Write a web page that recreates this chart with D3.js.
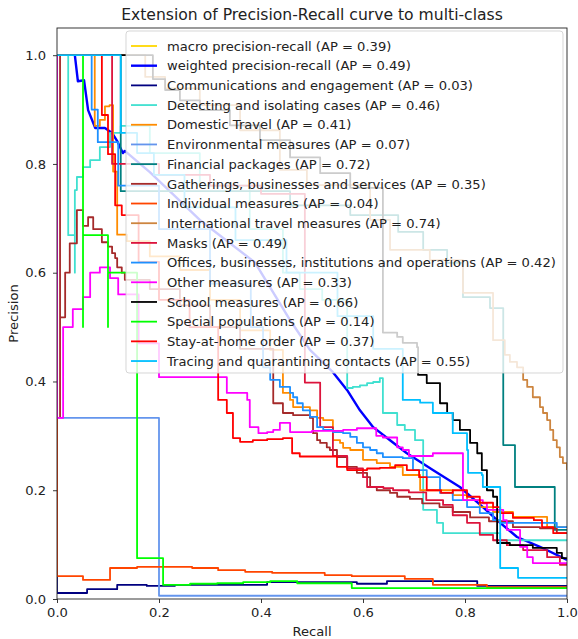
<!DOCTYPE html>
<html>
<head>
<meta charset="utf-8">
<script src="https://cdn.jsdelivr.net/npm/d3@7"></script>
<style>
	body { margin: 0; background: #fff; }
	svg { display: block; font-family: 'DejaVu Sans', sans-serif; }
</style>
</head>
<body>
<svg width="578" height="639"></svg>
<script>
// legend rows, in plot order
const seriesNames = [
	'macro precision-recall', 'weighted precision-recall',
	'Communications and engagement', 'Detecting and isolating cases', 'Domestic Travel',
	'Environmental measures', 'Financial packages', 'Gatherings, businesses and services',
	'Individual measures', 'International travel measures', 'Masks',
	'Offices, businesses, institutions and operations', 'Other measures', 'School measures',
	'Special populations', 'Stay-at-home order', 'Tracing and quarantining contacts'
]
const apScores = [0.39, 0.49, 0.03, 0.46, 0.41, 0.07, 0.72, 0.35, 0.04, 0.74, 0.49, 0.42, 0.33, 0.66, 0.14, 0.37, 0.55]
const seriesColors = ['gold', 'blue', 'navy', 'turquoise', 'darkorange', 'cornflowerblue', 'teal', 'brown',
	'orangered', 'peru', 'crimson', 'dodgerblue', 'magenta', 'black', 'lime', 'red', 'deepskyblue']

const xTicks = [0, 0.2, 0.4, 0.6, 0.8, 1.0]
const yTicks = [0, 0.2, 0.4, 0.6, 0.8, 1.0]

// [recall, precision]
const macroCurve = []
const weightedCurve = [[0.035,1.0],[0.041,0.952],[0.053,0.954],[0.061,0.899],[0.075,0.866],[0.094,0.866],[0.108,0.857],[0.118,0.842],[0.129,0.82],[0.133,0.824],[0.182,0.785],[0.28,0.697],[0.388,0.619],[0.457,0.513],[0.496,0.458],[0.541,0.417],[0.569,0.384],[0.594,0.347],[0.62,0.316],[0.653,0.292],[0.686,0.268],[0.737,0.237],[0.79,0.206],[0.835,0.169],[0.869,0.14],[0.902,0.114],[0.947,0.096],[1.0,0.072]]

const commsCurve = [[0,1],[0,0.011],[0.059,0.018],[0.118,0.026],[0.176,0.024],[0.231,0.026],[0.412,0.031],[0.588,0.028],[0.647,0.033],[0.824,0.024],[1,0.024]]
const detectingCurve = [[0,1],[0.022,0.669],[0.035,0.6],[0.035,0.752],[0.039,0.776],[0.051,0.794],[0.065,0.807],[0.084,0.831],[0.104,0.857],[0.125,0.87],[0.182,0.82],[0.28,0.76],[0.378,0.68],[0.443,0.6],[0.476,0.57],[0.52,0.55],[0.569,0.388],[0.58,0.39],[0.594,0.393],[0.608,0.397],[0.62,0.399],[0.633,0.406],[0.639,0.342],[0.667,0.32],[0.682,0.311],[0.702,0.292],[0.718,0.164],[0.745,0.14],[0.757,0.121],[0.869,0.108],[1,0.108]]
const domesticCurve = [[0,1],[0.074,0.87],[0.084,0.881],[0.094,0.906],[0.103,0.908],[0.11,0.786],[0.118,0.67],[0.137,0.658],[0.182,0.63],[0.241,0.605],[0.3,0.55],[0.359,0.494],[0.418,0.458],[0.443,0.379],[0.457,0.366],[0.463,0.353],[0.496,0.347],[0.51,0.333],[0.522,0.329],[0.541,0.292],[0.555,0.287],[0.561,0.278],[0.575,0.274],[0.6,0.256],[0.627,0.25],[0.653,0.243],[0.678,0.228],[0.712,0.2],[0.776,0.191],[0.804,0.182],[0.829,0.169],[0.855,0.16],[0.894,0.151],[0.961,0.132],[1,0.132]]
const environmentCurve = [[0,1],[0,0.333],[0.2,0.006],[1,0.006]]
const financialCurve = [[0,1],[0.125,0.75],[0.457,0.724],[0.575,0.706],[0.669,0.675],[0.718,0.642],[0.765,0.618],[0.796,0.555],[0.849,0.535],[0.875,0.283],[0.898,0.206],[0.976,0.127],[1,0.127]]
const gatheringsCurve = [[0,1],[0.006,0.335],[0.006,0.518],[0.016,0.6],[0.025,0.654],[0.039,0.715],[0.051,0.686],[0.061,0.702],[0.071,0.68],[0.088,0.656],[0.1,0.648],[0.108,0.636],[0.114,0.627],[0.118,0.61],[0.127,0.6],[0.133,0.587],[0.182,0.57],[0.241,0.54],[0.3,0.5],[0.359,0.46],[0.424,0.36],[0.443,0.342],[0.463,0.338],[0.496,0.333],[0.502,0.305],[0.51,0.292],[0.516,0.287],[0.529,0.279],[0.535,0.274],[0.549,0.261],[0.569,0.243],[0.588,0.232],[0.608,0.224],[0.614,0.206],[0.627,0.2],[0.653,0.195],[0.667,0.188],[0.692,0.184],[0.716,0.176],[0.75,0.169],[0.776,0.16],[0.81,0.15],[0.847,0.143],[0.894,0.132],[0.947,0.13],[0.98,0.121],[1,0.121]]
const individualCurve = [[0,1],[0,0.042],[0.051,0.035],[0.104,0.057],[0.157,0.059],[0.265,0.057],[0.316,0.053],[0.369,0.05],[0.422,0.048],[0.525,0.044],[0.578,0.042],[0.682,0.037],[0.737,0.026],[0.843,0.022],[1,0.022]]
const internationalCurve = [[0,1],[0.173,0.96],[0.212,0.939],[0.28,0.908],[0.359,0.862],[0.437,0.789],[0.49,0.761],[0.614,0.697],[0.653,0.642],[0.731,0.623],[0.796,0.563],[0.855,0.476],[0.878,0.449],[0.888,0.436],[0.902,0.426],[0.914,0.403],[0.922,0.39],[0.933,0.371],[0.947,0.353],[0.953,0.342],[0.961,0.329],[0.967,0.311],[0.973,0.292],[0.98,0.279],[0.986,0.261],[0.992,0.25],[1,0.237]]
const masksCurve = [[0,1],[0.108,0.8],[0.2,0.78],[0.3,0.76],[0.4,0.745],[0.486,0.398],[0.516,0.316],[0.541,0.263],[0.569,0.24],[0.6,0.224],[0.608,0.206],[0.64,0.204],[0.659,0.2],[0.69,0.196],[0.724,0.182],[0.757,0.173],[0.776,0.154],[0.804,0.14],[0.829,0.118],[0.855,0.108],[0.882,0.099],[0.914,0.09],[0.961,0.077],[0.986,0.063],[1,0.063]]
const officesCurve = [[0,1],[0.068,0.9],[0.08,0.84],[0.12,0.76],[0.2,0.68],[0.3,0.58],[0.38,0.5],[0.404,0.426],[0.418,0.403],[0.437,0.39],[0.457,0.379],[0.463,0.371],[0.471,0.36],[0.482,0.347],[0.496,0.335],[0.51,0.316],[0.522,0.311],[0.541,0.307],[0.561,0.305],[0.575,0.298],[0.588,0.287],[0.6,0.279],[0.614,0.274],[0.627,0.268],[0.639,0.261],[0.678,0.259],[0.698,0.237],[0.725,0.224],[0.751,0.195],[0.776,0.182],[0.804,0.169],[0.829,0.158],[0.855,0.145],[0.869,0.14],[0.98,0.132],[1,0.132]]
const otherCurve = [[0,1],[0,0.333],[0.012,0.5],[0.031,0.533],[0.051,0.555],[0.065,0.6],[0.084,0.61],[0.104,0.59],[0.12,0.56],[0.16,0.47],[0.2,0.408],[0.333,0.379],[0.373,0.366],[0.378,0.316],[0.395,0.305],[0.412,0.307],[0.424,0.311],[0.437,0.324],[0.457,0.307],[0.5,0.309],[0.561,0.311],[0.588,0.314],[0.626,0.3],[0.639,0.297],[0.667,0.279],[0.678,0.274],[0.69,0.263],[0.737,0.268],[0.796,0.182],[0.835,0.176],[0.843,0.164],[0.875,0.145],[0.882,0.127],[0.908,0.096],[0.922,0.077],[0.933,0.066],[1,0.066]]
const schoolCurve = [[0,1],[0.188,0.956],[0.212,0.936],[0.241,0.917],[0.28,0.899],[0.339,0.871],[0.398,0.844],[0.457,0.812],[0.516,0.783],[0.575,0.756],[0.639,0.49],[0.667,0.482],[0.678,0.471],[0.706,0.463],[0.708,0.412],[0.725,0.397],[0.751,0.36],[0.765,0.342],[0.776,0.329],[0.79,0.311],[0.81,0.287],[0.824,0.268],[0.833,0.237],[0.843,0.2],[0.855,0.188],[0.863,0.103],[0.888,0.099],[0.933,0.094],[0.98,0.085],[0.99,0.075],[1,0.075]]
const specialCurve = [[0,1],[0.051,0.5],[0.051,0.669],[0.1,0.5],[0.1,0.6],[0.157,0.075],[0.208,0.026],[0.261,0.028],[0.314,0.029],[0.365,0.031],[0.418,0.033],[0.471,0.029],[0.578,0.02],[1,0.02]]
const stayHomeCurve = [[0,1],[0.088,0.89],[0.1,0.818],[0.114,0.724],[0.127,0.706],[0.16,0.62],[0.2,0.55],[0.26,0.5],[0.316,0.366],[0.333,0.342],[0.345,0.296],[0.359,0.289],[0.384,0.292],[0.412,0.294],[0.443,0.296],[0.461,0.268],[0.476,0.262],[0.51,0.262],[0.549,0.243],[0.569,0.237],[0.608,0.24],[0.633,0.241],[0.663,0.246],[0.686,0.237],[0.71,0.224],[0.725,0.2],[0.753,0.195],[0.776,0.2],[0.804,0.188],[0.829,0.177],[0.855,0.169],[0.869,0.158],[0.894,0.149],[0.935,0.145],[0.951,0.132],[0.973,0.121],[1,0.121]]
const tracingCurve = [[0,1],[0.125,0.857],[0.157,0.82],[0.19,0.78],[0.25,0.72],[0.35,0.66],[0.45,0.6],[0.55,0.52],[0.62,0.46],[0.678,0.366],[0.712,0.361],[0.737,0.342],[0.776,0.305],[0.804,0.274],[0.806,0.232],[0.833,0.228],[0.835,0.206],[0.869,0.057],[0.904,0.039],[1,0.039]]

const curves = [macroCurve, weightedCurve, commsCurve, detectingCurve, domesticCurve, environmentCurve,
	financialCurve, gatheringsCurve, individualCurve, internationalCurve, masksCurve, officesCurve,
	otherCurve, schoolCurve, specialCurve, stayHomeCurve, tracingCurve]

let svg = d3.select('svg')
let plotL = 57, plotR = 567, plotT = 28, plotB = 599
let fontSize = 13.1

let scX = d3.scaleLinear().domain([0, 1]).range([plotL, plotR])
let scY = d3.scaleLinear().domain([0, 1.05]).range([plotB, plotT])

svg.append('defs').append('clipPath').attr('id', 'plot-area')
	.append('rect')
	.attr('x', plotL).attr('y', plotT)
	.attr('width', plotR - plotL).attr('height', plotB - plotT)

let stepLine = d3.line().x(d => scX(d[0])).y(d => scY(d[1])).curve(d3.curveStepAfter)
let plainLine = d3.line().x(d => scX(d[0])).y(d => scY(d[1]))

// curves, later ones on top like matplotlib
svg.append('g')
	.attr('clip-path', 'url(#plot-area)')
	.selectAll('path')
	.data(curves).enter()
	.append('path')
	.attr('fill', 'none')
	.attr('stroke', (d, i) => seriesColors[i])
	.attr('stroke-width', (d, i) => i === 1 ? 2.4 : 1.8)
	.attr('stroke-linejoin', 'round')
	.attr('d', (d, i) => d.length ? (i === 1 ? plainLine(d) : stepLine(d)) : null)

// axes
let xAxis = svg.append('g')
	.attr('transform', `translate(0,${plotB})`)
	.call(d3.axisBottom(scX).tickValues(xTicks).tickFormat(d3.format('.1f')).tickSize(4).tickPadding(5))
let yAxis = svg.append('g')
	.attr('transform', `translate(${plotL},0)`)
	.call(d3.axisLeft(scY).tickValues(yTicks).tickFormat(d3.format('.1f')).tickSize(4).tickPadding(7))

;[xAxis, yAxis].forEach(ax => {
	ax.select('.domain').remove()
	ax.selectAll('text').attr('font-size', fontSize).attr('fill', '#222').attr('font-family', 'DejaVu Sans')
	ax.selectAll('line').attr('stroke', '#222').attr('stroke-width', 0.9)
})

svg.append('rect')
	.attr('x', plotL).attr('y', plotT)
	.attr('width', plotR - plotL).attr('height', plotB - plotT)
	.attr('fill', 'none').attr('stroke', '#222').attr('stroke-width', 0.9)

// labels
svg.append('text')
	.attr('x', (plotL + plotR) / 2).attr('y', 20)
	.attr('text-anchor', 'middle').attr('font-size', 15.6).attr('fill', '#222')
	.text('Extension of Precision-Recall curve to multi-class')

svg.append('text')
	.attr('x', (plotL + plotR) / 2).attr('y', 636)
	.attr('text-anchor', 'middle').attr('font-size', fontSize).attr('fill', '#222')
	.text('Recall')

svg.append('text')
	.attr('transform', `translate(18,${(plotT + plotB) / 2}) rotate(-90)`)
	.attr('text-anchor', 'middle').attr('font-size', fontSize).attr('fill', '#222')
	.text('Precision')

// legend
let lg = svg.append('g')
lg.append('rect')
	.attr('x', 126).attr('y', 31).attr('width', 437).attr('height', 342).attr('rx', 3)
	.attr('fill', '#fff').attr('fill-opacity', 0.8)
	.attr('stroke', '#ccc').attr('stroke-opacity', 0.8)

let rows = lg.selectAll('g.row')
	.data(seriesNames).enter()
	.append('g').attr('class', 'row')
	.attr('transform', (d, i) => `translate(0,${46 + i * 19.69})`)

rows.append('line')
	.attr('x1', 131).attr('x2', 157)
	.attr('stroke', (d, i) => seriesColors[i])
	.attr('stroke-width', (d, i) => i === 1 ? 2.4 : 1.8)

rows.append('text')
	.attr('x', 167).attr('dy', '0.36em')
	.attr('font-size', fontSize).attr('fill', '#222')
	.text((d, i) => `${d} (AP = ${apScores[i].toFixed(2)})`)
</script>
</body>
</html>
